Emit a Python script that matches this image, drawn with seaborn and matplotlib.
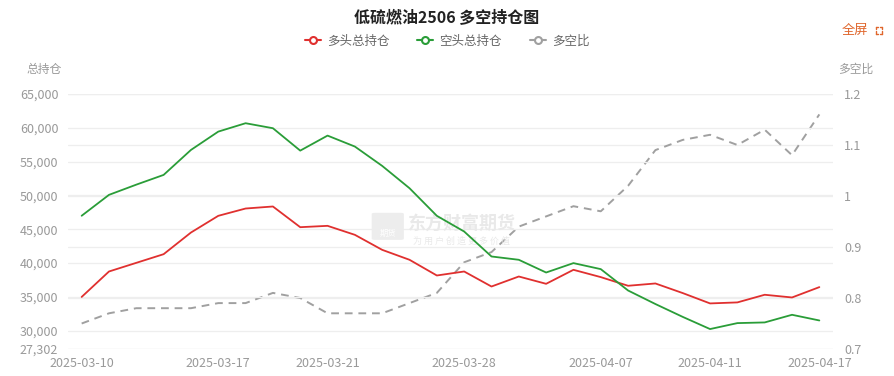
import numpy as np
import pandas as pd
import matplotlib.pyplot as plt
import matplotlib.ticker as plticker
import seaborn as sns
from matplotlib.lines import Line2D
from matplotlib.patches import FancyBboxPatch

sns.set_style('white')
plt.rcParams['font.family'] = ['Noto Sans CJK SC', 'DejaVu Sans']

dates = ['2025-03-10', '2025-03-11', '2025-03-12', '2025-03-13', '2025-03-14',
         '2025-03-17', '2025-03-18', '2025-03-19', '2025-03-20', '2025-03-21',
         '2025-03-24', '2025-03-25', '2025-03-26', '2025-03-27', '2025-03-28',
         '2025-03-31', '2025-04-01', '2025-04-02', '2025-04-03',
         '2025-04-07', '2025-04-08', '2025-04-09', '2025-04-10', '2025-04-11',
         '2025-04-14', '2025-04-15', '2025-04-16', '2025-04-17']
long_oi = [35000, 38760, 40040, 41320, 44520, 46990, 48070, 48370, 45310, 45510,
           44180, 41960, 40490, 38170, 38760, 36540, 38020, 36940, 39010,
           37930, 36650, 36990, 35570, 34040, 34190, 35320, 34920, 36450]
short_oi = [47000, 50090, 51600, 53040, 56730, 59440, 60680, 59940, 56630, 58850,
            57230, 54370, 51070, 46990, 44670, 40980, 40490, 38610, 40000,
            39110, 35950, 33950, 32050, 30250, 31130, 31230, 32360, 31520]
ratio = [0.75, 0.77, 0.78, 0.78, 0.78, 0.79, 0.79, 0.81, 0.80, 0.77,
         0.77, 0.77, 0.79, 0.81, 0.87, 0.89, 0.94, 0.96, 0.98,
         0.97, 1.02, 1.09, 1.11, 1.12, 1.10, 1.13, 1.08, 1.16]
shown_dates = ['2025-03-10', '2025-03-17', '2025-03-21', '2025-03-28',
               '2025-04-07', '2025-04-11', '2025-04-17']
left_ticks = [27302, 30000, 35000, 40000, 45000, 50000, 55000, 60000, 65000]
right_ticks = [0.7, 0.8, 0.9, 1.0, 1.1, 1.2]

df = pd.DataFrame({'date': dates, 'long': long_oi, 'short': short_oi, 'ratio': ratio})
df['pos'] = np.arange(len(df))

red = '#e0302f'
green = '#2a9d38'
gray = '#a0a0a0'
label_c = '#999999'
grid_c = '#eeeeee'
wm_c = '#e9e9e9'

fig = plt.figure(figsize=(8.94, 3.76), dpi=100)
ax = fig.add_axes([68 / 894, 1 - 349 / 376, (833 - 68) / 894, (349 - 94) / 376])
ax2 = ax.twinx()

# gridlines for both axes
for t in left_ticks:
    ax.axhline(t, color=grid_c, lw=0.9, zorder=0)
for t in right_ticks:
    ax2.axhline(t, color=grid_c, lw=0.9, zorder=0)

# watermark
ax.text(0.515, 0.494, '东方财富期货', transform=ax.transAxes, fontsize=13, fontweight='bold',
        color=wm_c, ha='center', va='center', zorder=0)
ax.text(0.515, 0.424, '为 用 户 创 造 更 多 价 值', transform=ax.transAxes, fontsize=6.5,
        color=wm_c, ha='center', va='center', zorder=0)
ax.add_patch(FancyBboxPatch((0.401, 0.432), 0.034, 0.098, boxstyle='round,pad=0.004',
                            transform=ax.transAxes, fc='#ededed', ec='none', zorder=0))
ax.text(0.418, 0.455, '期货', transform=ax.transAxes, fontsize=6, color='white',
        ha='center', va='center', zorder=0)

sns.lineplot(data=df, x='pos', y='long', ax=ax, color=red, lw=1.3, zorder=3)
sns.lineplot(data=df, x='pos', y='short', ax=ax, color=green, lw=1.3, zorder=3)
sns.lineplot(data=df, x='pos', y='ratio', ax=ax2, color=gray, lw=1.4, zorder=3,
             dashes=False, linestyle=(0, (4, 3)))

ax.set_xlim(-0.5, len(dates) - 0.5)
ax.set_ylim(27302, 65000)
ax2.set_ylim(0.7, 1.2)

ax.set_xticks([dates.index(d) for d in shown_dates])
ax.set_xticklabels(shown_dates)
ax.yaxis.set_major_locator(plticker.FixedLocator(left_ticks))
ax.yaxis.set_major_formatter(plticker.FuncFormatter(lambda v, p: f'{int(v):,}'))
ax2.yaxis.set_major_locator(plticker.FixedLocator(right_ticks))
ax2.yaxis.set_major_formatter(plticker.FuncFormatter(lambda v, p: f'{v:g}'))

for a in (ax, ax2):
    a.set_xlabel('')
    a.set_ylabel('')
    for s in a.spines.values():
        s.set_visible(False)
    a.tick_params(length=0, labelsize=9, labelcolor=label_c)
ax.tick_params(axis='y', pad=7)
ax.tick_params(axis='x', pad=6)
ax2.tick_params(axis='y', pad=8)
ax.set_zorder(ax2.get_zorder() + 1)
ax.patch.set_visible(False)

fig.text(0.5, 1 - 18 / 376, '低硫燃油2506 多空持仓图', ha='center', va='center',
         fontsize=11.5, fontweight='bold', color='#222222')
fig.text(44 / 894, 1 - 69 / 376, '总持仓', ha='center', va='center', fontsize=8.5, color=label_c)
fig.text(856 / 894, 1 - 69 / 376, '多空比', ha='center', va='center', fontsize=8.5, color=label_c)
fig.text(855 / 894, 1 - 30 / 376, '全屏', ha='center', va='center', fontsize=9.5, color='#e0662c')

# small fullscreen icon corners
cx, cy, h = 879 / 894, 1 - 30 / 376, 3.5
dx, dy = h / 894, h / 376
for sx in (-1, 1):
    for sy in (-1, 1):
        x0, y0 = cx + sx * dx, cy + sy * dy
        fig.add_artist(Line2D([x0, x0 - sx * dx * 0.6], [y0, y0], color='#e0662c', lw=1))
        fig.add_artist(Line2D([x0, x0], [y0, y0 - sy * dy * 0.6], color='#e0662c', lw=1))

handles = [Line2D([], [], color=c, lw=1.5, marker='o', markersize=5, markerfacecolor='white',
                  markeredgewidth=1.5) for c in (red, green, gray)]
fig.legend(handles, ['多头总持仓', '空头总持仓', '多空比'], loc='center', ncol=3,
           bbox_to_anchor=(0.5, 1 - 41 / 376), frameon=False, fontsize=9,
           labelcolor='#666666', handlelength=1.3, handletextpad=0.5, columnspacing=2.2)

plt.savefig('out.png', dpi=100)
